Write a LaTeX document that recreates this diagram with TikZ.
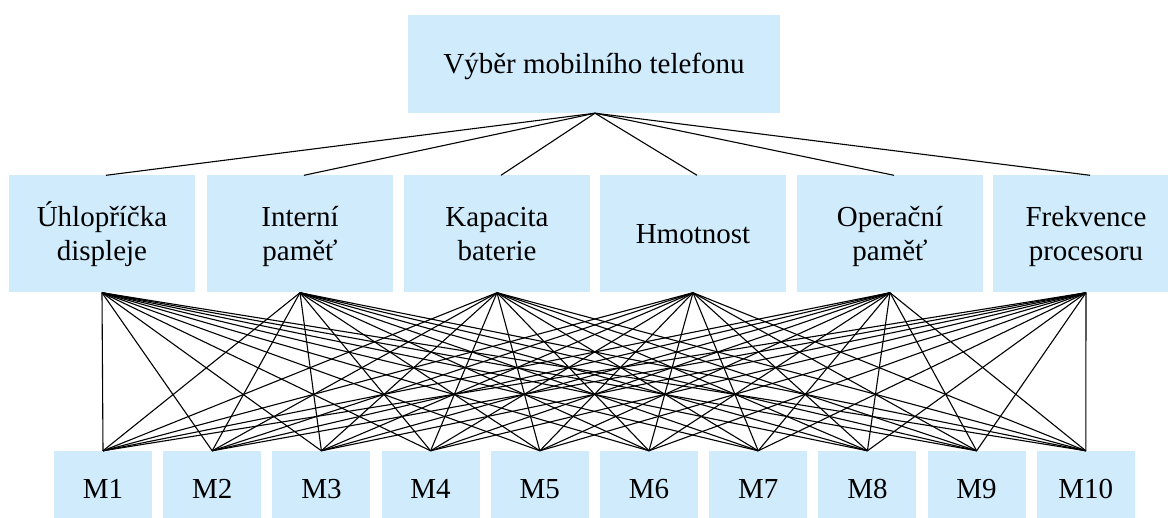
\documentclass[tikz,border=0pt]{standalone}
\usepackage{fontspec}
\setmainfont{Liberation Serif}
\definecolor{boxblue}{RGB}{208,236,252}
% two centred lines with fixed line metrics
\newcommand\twoline[2]{\smash{#1}\rule{0pt}{25pt}\\\smash{#2}\rule[-6pt]{0pt}{6pt}}
\begin{document}
\begin{tikzpicture}[x=1pt,y=-1pt,
  box/.style={fill=boxblue, draw=none, inner sep=0pt, align=center,
    font=\fontsize{29}{33.5}\selectfont},
  oneline/.style={text height=19.4pt, text depth=0pt},
  goal/.style={box, oneline, minimum width=372pt, minimum height=98pt},
  crit/.style={box, minimum width=186pt, minimum height=117pt},
  alt/.style={box, oneline, minimum width=98pt, minimum height=75pt},
  link/.style={draw=black, line width=1.1pt}]
\useasboundingbox (0,0) rectangle (1168,518);
\clip (0,0) rectangle (1168,518);

% goal
\node[goal] (goal) at (594,64) {Výběr mobilního telefonu};

% criteria
\node[crit] (c1) at (102,234)  {\twoline{Úhlopříčka}{displeje}};
\node[crit] (c2) at (300,234)  {\twoline{Interní}{paměť}};
\node[crit] (c3) at (497,234)  {\twoline{Kapacita}{baterie}};
\node[crit, oneline] (c4) at (693,234) {Hmotnost};
\node[crit] (c5) at (890,234)  {\twoline{Operační}{paměť}};
\node[crit] (c6) at (1086,234) {\twoline{Frekvence}{procesoru}};

% alternatives
\foreach \i in {1,...,10}
  \node[alt] (m\i) at ({103+109.2*(\i-1)},488.5) {M\i};

% goal to criteria
\foreach \c in {1,...,6}
  \draw[link] ([xshift=1pt]goal.south) -- ([xshift=4pt]c\c.north);

% criteria to alternatives
\foreach \c in {1,...,6}
  \foreach \i in {1,...,10}
    \draw[link] (c\c.south) -- (m\i.north);
\end{tikzpicture}
\end{document}
